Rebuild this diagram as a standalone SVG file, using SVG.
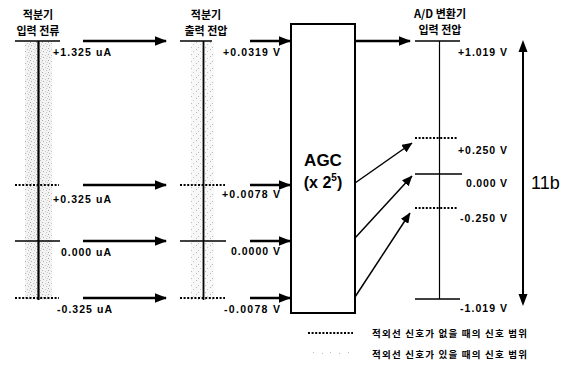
<svg xmlns="http://www.w3.org/2000/svg" width="564" height="365" viewBox="0 0 564 365">
<defs>
<style>
.hd{font-family:"Noto Sans CJK KR","Liberation Sans",sans-serif;font-weight:bold;font-size:11px;fill:#000;text-anchor:middle}
.lb{font-family:"Liberation Sans",Arial,sans-serif;font-weight:bold;font-size:10.5px;fill:#000}
.lg{font-family:"Noto Sans CJK KR",sans-serif;font-weight:bold;font-size:9.5px;fill:#000}
.sol{stroke:#000;stroke-width:1.5;fill:none}
.dot{stroke:#000;stroke-width:2;stroke-dasharray:2 1.6;fill:none}
.ax{stroke:#000;fill:none}
.ar{stroke:#000;stroke-width:2.5;fill:none;marker-end:url(#ah)}
.ad{stroke:#000;stroke-width:1.5;fill:none;marker-end:url(#ah2)}
</style>
<marker id="ah" markerWidth="5" markerHeight="4" refX="4.6" refY="2" orient="auto" markerUnits="strokeWidth">
<path d="M0,0 L5,2 L0,4 Z" fill="#000"/>
</marker>
<marker id="ah2" markerWidth="7" markerHeight="6" refX="6.6" refY="3" orient="auto" markerUnits="strokeWidth">
<path d="M0,0 L7,3 L0,6 Z" fill="#000"/>
</marker>
<pattern id="stip" width="6" height="6" patternUnits="userSpaceOnUse">
<rect width="6" height="6" fill="#f3f3f3"/>
<rect x="0" y="0" width="1" height="1" fill="#aaa"/>
<rect x="3" y="1" width="1" height="1" fill="#c4c4c4"/>
<rect x="1" y="3" width="1" height="1" fill="#b0b0b0"/>
<rect x="4" y="4" width="1" height="1" fill="#c4c4c4"/>
<rect x="5" y="2" width="1" height="1" fill="#d0d0d0"/>
</pattern>
<pattern id="stip2" width="7" height="7" patternUnits="userSpaceOnUse">
<rect width="7" height="7" fill="#f8f8f8"/>
<rect x="0" y="0" width="1" height="1" fill="#b5b5b5"/>
<rect x="4" y="2" width="1" height="1" fill="#c8c8c8"/>
<rect x="2" y="5" width="1" height="1" fill="#bbb"/>
</pattern>
</defs>
<rect width="564" height="365" fill="#fff"/>

<g id="col-input-current">
<text class="hd" x="38" y="19">적분기</text>
<text class="hd" x="38" y="35">입력 전류</text>
<rect x="25" y="42" width="27" height="258" fill="url(#stip)"/>
<line class="sol" x1="15" y1="41" x2="60" y2="41"/>
<line class="ax" stroke-width="2.2" x1="38.5" y1="41" x2="38.5" y2="300"/>
<line class="dot" x1="15" y1="185" x2="59" y2="185"/>
<line class="sol" x1="15" y1="241" x2="60" y2="241"/>
<line class="dot" x1="15" y1="298" x2="59" y2="298"/>
<text class="lb" x="53" y="56" textLength="58">+1.325 uA</text>
<text class="lb" x="53" y="203" textLength="58">+0.325 uA</text>
<text class="lb" x="61" y="256" textLength="50">0.000 uA</text>
<text class="lb" x="57" y="313" textLength="55">-0.325 uA</text>
</g>

<g id="col-output-voltage">
<text class="hd" x="206" y="19">적분기</text>
<text class="hd" x="206" y="35">출력 전압</text>
<rect x="191" y="42" width="23" height="258" fill="url(#stip2)"/>
<line class="sol" x1="180" y1="41" x2="212" y2="41"/>
<line class="ax" stroke-width="1.8" x1="203.5" y1="41" x2="203.5" y2="300"/>
<line class="dot" x1="180" y1="185" x2="225" y2="185"/>
<line class="sol" x1="180" y1="241" x2="226" y2="241"/>
<line class="dot" x1="180" y1="298" x2="225" y2="298"/>
<text class="lb" x="223" y="56" textLength="57">+0.0319 V</text>
<text class="lb" x="222" y="198" textLength="58">+0.0078 V</text>
<text class="lb" x="231" y="255" textLength="49">0.0000 V</text>
<text class="lb" x="224" y="313" textLength="56">-0.0078 V</text>
</g>

<g id="agc">
<rect x="291" y="24" width="64" height="289" fill="#fff" stroke="#000" stroke-width="2"/>
<text x="323" y="166" text-anchor="middle" font-family="Liberation Sans,Arial,sans-serif" font-weight="bold" font-size="17">AGC</text>
<text x="323" y="188" text-anchor="middle" font-family="Liberation Sans,Arial,sans-serif" font-weight="bold" font-size="16">(x 2<tspan font-size="10" dy="-7">5</tspan><tspan dy="7">)</tspan></text>
</g>

<g id="col-adc-input">
<text class="hd" x="440" y="18">A/D 변환기</text>
<text class="hd" x="440" y="34">입력 전압</text>
<line class="sol" x1="415" y1="41" x2="460" y2="41"/>
<line class="ax" stroke-width="1.2" x1="439.5" y1="41" x2="439.5" y2="299"/>
<line class="dot" x1="415" y1="138" x2="458" y2="138"/>
<line class="sol" x1="415" y1="174" x2="462" y2="174"/>
<line class="dot" x1="415" y1="208" x2="458" y2="208"/>
<line class="sol" x1="415" y1="299" x2="460" y2="299"/>
<text class="lb" x="458" y="56" textLength="49">+1.019 V</text>
<text class="lb" x="458" y="154" textLength="49">+0.250 V</text>
<text class="lb" x="466" y="187" textLength="41">0.000 V</text>
<text class="lb" x="460" y="222" textLength="47">-0.250 V</text>
<text class="lb" x="460" y="312" textLength="47">-1.019 V</text>
</g>

<g id="range-11b">
<line class="ax" stroke-width="2" x1="523" y1="50" x2="523" y2="296"/>
<path d="M523,40 L518.5,52 L527.5,52 Z" fill="#000"/>
<path d="M523,306 L518.5,294 L527.5,294 Z" fill="#000"/>
<text x="531" y="189" font-family="Liberation Sans,Arial,sans-serif" font-size="18">11b</text>
</g>

<g id="connectors">
<line class="ar" x1="83" y1="41" x2="166" y2="41"/>
<line class="ar" x1="83" y1="185" x2="166" y2="185"/>
<line class="ar" x1="83" y1="241" x2="166" y2="241"/>
<line class="ar" x1="83" y1="298" x2="166" y2="298"/>
<line class="ar" x1="250" y1="41" x2="290" y2="41"/>
<line class="ar" x1="250" y1="185" x2="290" y2="185"/>
<line class="ar" x1="250" y1="241" x2="290" y2="241"/>
<line class="ar" x1="250" y1="298" x2="290" y2="298"/>
<line class="ar" x1="355" y1="41" x2="410" y2="41"/>
<line class="ad" x1="355" y1="183" x2="412" y2="143"/>
<line class="ad" x1="355" y1="238" x2="412" y2="176"/>
<line class="ad" x1="355" y1="297" x2="410" y2="213"/>
</g>

<g id="legend">
<line class="dot" x1="308" y1="333" x2="353" y2="333"/>
<text class="lg" x="372" y="337" textLength="155">적외선 신호가 없을 때의 신호 범위</text>
<g fill="#bbb">
<rect x="313" y="352" width="1" height="1"/><rect x="322" y="353" width="1" height="1"/><rect x="330" y="352" width="1" height="1"/><rect x="339" y="353" width="1" height="1"/><rect x="348" y="352" width="1" height="1"/>
</g>
<text class="lg" x="372" y="358" textLength="155">적외선 신호가 있을 때의 신호 범위</text>
</g>
</svg>
